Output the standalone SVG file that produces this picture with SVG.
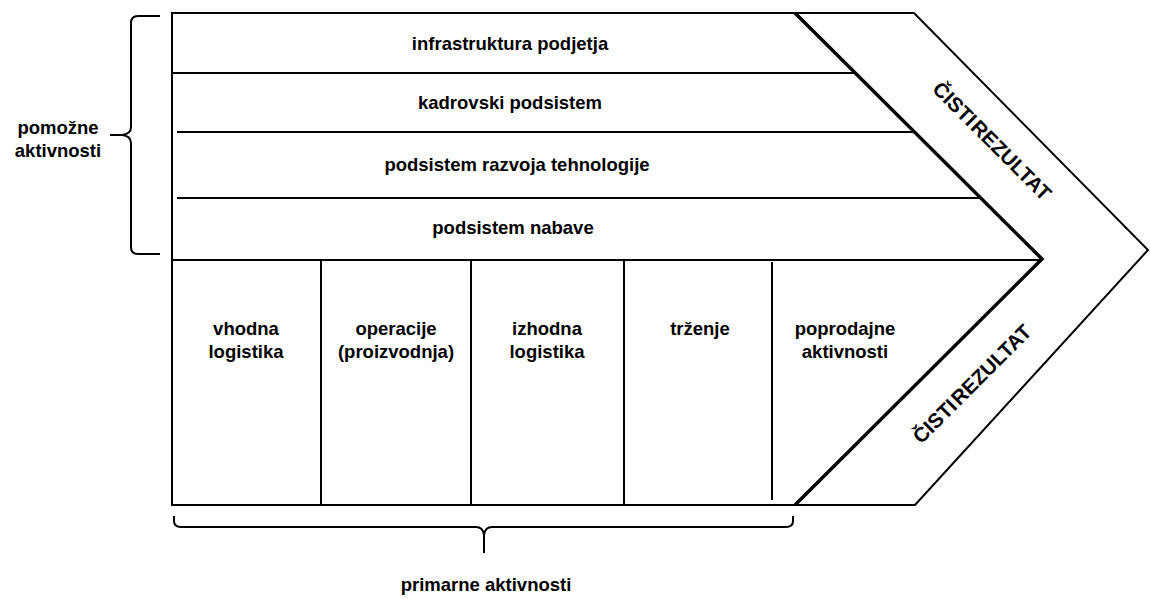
<svg xmlns="http://www.w3.org/2000/svg" width="1150" height="599" viewBox="0 0 1150 599">
  <style>
    .ln { fill: none; stroke: #000; stroke-width: 2; }
    .thick { fill: none; stroke: #000; stroke-width: 3.5; stroke-linejoin: miter; }
    .lbl { font-family: "Liberation Sans", Arial, sans-serif; font-weight: bold; font-size: 18.5px; fill: #000; text-anchor: middle; }
    .res { font-family: "Liberation Sans", Arial, sans-serif; font-weight: bold; font-size: 20.5px; fill: #000; text-anchor: middle; word-spacing: -4px; }
  </style>
  <rect width="1150" height="599" fill="#fff"/>

  <!-- outer frame with value-chain chevron -->
  <g id="frame">
    <path class="ln" d="M172,13 H914 L1148,250 L915,505 H172 Z"/>
    <path class="thick" d="M795,13 L1042,259 L795,505"/>
  </g>

  <!-- support activities -->
  <g id="infrastruktura">
    <text class="lbl" x="510" y="50">infrastruktura podjetja</text>
  </g>
  <g id="kadrovski">
    <line class="ln" x1="172" y1="73" x2="855" y2="73"/>
    <text class="lbl" x="510" y="109">kadrovski podsistem</text>
  </g>
  <g id="razvoj">
    <line class="ln" x1="177" y1="132" x2="914" y2="132"/>
    <text class="lbl" x="517" y="171">podsistem razvoja tehnologije</text>
  </g>
  <g id="nabava">
    <line class="ln" x1="177" y1="198" x2="980" y2="198"/>
    <text class="lbl" x="513" y="234">podsistem nabave</text>
  </g>
  <g id="primarne-meja">
    <line class="ln" x1="172" y1="260" x2="1042" y2="260"/>
  </g>

  <!-- primary activities -->
  <g id="vhodna">
    <text class="lbl" x="246" y="335">vhodna</text>
    <text class="lbl" x="246" y="358">logistika</text>
  </g>
  <g id="operacije">
    <line class="ln" x1="321" y1="260" x2="321" y2="505"/>
    <text class="lbl" x="396" y="335">operacije</text>
    <text class="lbl" x="396" y="358">(proizvodnja)</text>
  </g>
  <g id="izhodna">
    <line class="ln" x1="471" y1="260" x2="471" y2="505"/>
    <text class="lbl" x="547" y="335">izhodna</text>
    <text class="lbl" x="547" y="358">logistika</text>
  </g>
  <g id="trzenje">
    <line class="ln" x1="624" y1="260" x2="624" y2="505"/>
    <text class="lbl" x="700" y="335">trženje</text>
  </g>
  <g id="poprodajne">
    <line class="ln" x1="772" y1="262" x2="772" y2="500"/>
    <text class="lbl" x="845" y="335">poprodajne</text>
    <text class="lbl" x="845" y="358">aktivnosti</text>
  </g>

  <!-- margin labels -->
  <g id="rezultat-zgoraj">
    <text class="res" transform="translate(987,146) rotate(45)">ČISTI REZULTAT</text>
  </g>
  <g id="rezultat-spodaj">
    <text class="res" transform="translate(977,389) rotate(-45)">ČISTI REZULTAT</text>
  </g>

  <!-- braces -->
  <g id="pomozne">
    <path class="ln" d="M160,16 H138 Q131,16 131,23 V127 Q131,134 122,135 H110 H122 Q131,136 131,143 V247 Q131,254 138,254 H160"/>
    <text class="lbl" x="58" y="134">pomožne</text>
    <text class="lbl" x="58" y="157">aktivnosti</text>
  </g>
  <g id="primarne">
    <path class="ln" d="M174,516 V521 Q174,527 181,527 H476 Q483,527 484,535 V553 V535 Q485,527 492,527 H786 Q793,527 793,521 V516"/>
    <text class="lbl" x="486" y="591">primarne aktivnosti</text>
  </g>
</svg>
